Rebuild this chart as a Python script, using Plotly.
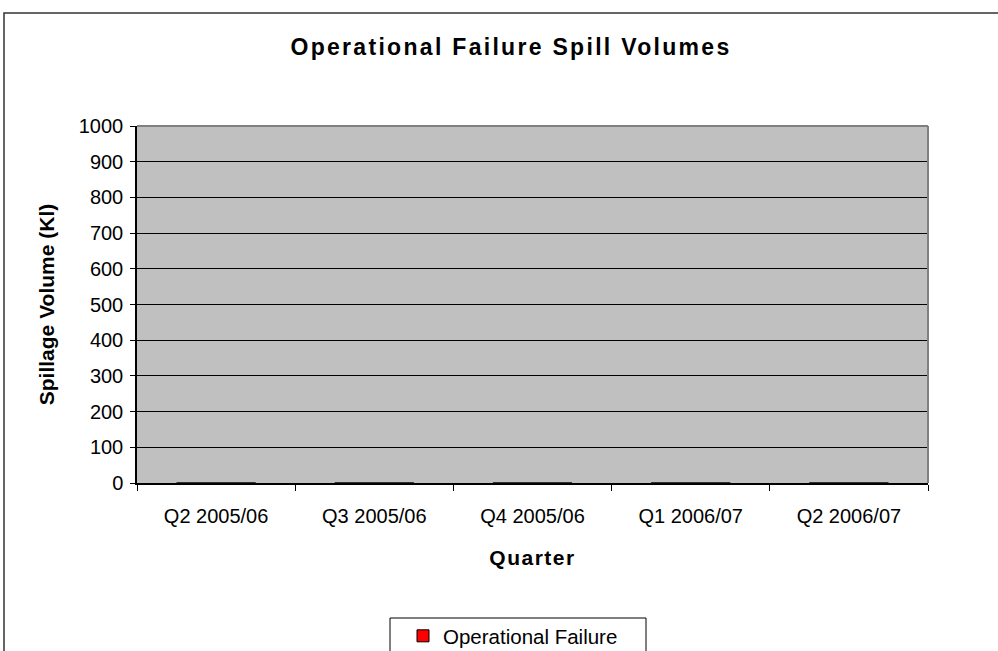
import plotly.graph_objects as go

quarters = ["Q2 2005/06", "Q3 2005/06", "Q4 2005/06", "Q1 2006/07", "Q2 2006/07"]
operational_failure = [0, 0, 0, 0, 0]
y_ticks = [0, 100, 200, 300, 400, 500, 600, 700, 800, 900, 1000]

FONT = "Liberation Sans, Arial, sans-serif"

W, H = 998, 651
L, R, T, B = 137, 928, 126, 483  # plot area pixel bounds


def px_x(x):
    return (x - L) / (R - L)


def px_y(y):
    return (B - y) / (B - T)


fig = go.Figure()
fig.add_trace(go.Bar(
    x=quarters, y=operational_failure, name="Operational Failure",
    marker=dict(color="#FF0000", line=dict(color="#000000", width=1)),
    width=0.5,
))

fig.update_layout(
    width=W, height=H,
    margin=dict(l=L, r=W - R, t=T, b=H - B, pad=0, autoexpand=False),
    paper_bgcolor="white",
    plot_bgcolor="#C0C0C0",
    font=dict(family=FONT, color="black", size=20),
    title=dict(
        text='<b><span style="letter-spacing:2.3px">Operational Failure Spill Volumes</span></b>',
        x=511 / W, xanchor="center", xref="container",
        y=1 - 47 / H, yanchor="middle", yref="container",
        font=dict(family=FONT, size=23, color="black"),
    ),
    showlegend=True,
    legend=dict(
        x=px_x(403), xanchor="left", y=px_y(636), yanchor="middle",
        orientation="h", bgcolor="rgba(0,0,0,0)", borderwidth=0,
        font=dict(family=FONT, size=20.5, color="black"),
        itemwidth=30,
    ),
    bargap=0.5,
)

fig.update_xaxes(
    type="category",
    showline=True, linecolor="black", linewidth=1.5,
    ticks="outside", ticklen=6, tickcolor="black", tickwidth=1,
    tickson="boundaries",
    ticklabelstandoff=14,
    tickfont=dict(family=FONT, size=20, color="black"),
    showgrid=False, zeroline=False, automargin=False,
    title=dict(text='<b><span style="letter-spacing:1.5px">Quarter</span></b>',
               font=dict(family=FONT, size=21, color="black"), standoff=25),
)

fig.update_yaxes(
    range=[0, 1000],
    tickvals=y_ticks,
    showline=True, linecolor="black", linewidth=1.5,
    ticks="outside", ticklen=5, tickcolor="black", tickwidth=1,
    ticklabelstandoff=3,
    tickfont=dict(family=FONT, size=20, color="black"),
    showgrid=True, gridcolor="black", gridwidth=1,
    zeroline=False, automargin=False,
    title=dict(text="<b>Spillage Volume (Kl)</b>",
               font=dict(family=FONT, size=21, color="black"), standoff=18),
)

# plot area border (gray top/right)
fig.add_shape(type="line", xref="paper", yref="paper", x0=0, x1=1, y0=1, y1=1,
              line=dict(color="#808080", width=2), layer="above")
fig.add_shape(type="line", xref="paper", yref="paper", x0=1, x1=1, y0=0, y1=1,
              line=dict(color="#808080", width=2), layer="above")

# outer chart border
fig.add_shape(type="rect", xref="paper", yref="paper",
              x0=px_x(4), x1=px_x(1010), y0=px_y(700), y1=px_y(13),
              line=dict(color="#333333", width=1.5), fillcolor="rgba(0,0,0,0)",
              layer="below")

# legend box
fig.add_shape(type="rect", xref="paper", yref="paper",
              x0=px_x(390), x1=px_x(646), y0=px_y(700), y1=px_y(618),
              line=dict(color="#000000", width=1), fillcolor="white",
              layer="below")

fig.write_html("out.html", config={"displayModeBar": False},
               post_script="document.body.style.margin='0';")
